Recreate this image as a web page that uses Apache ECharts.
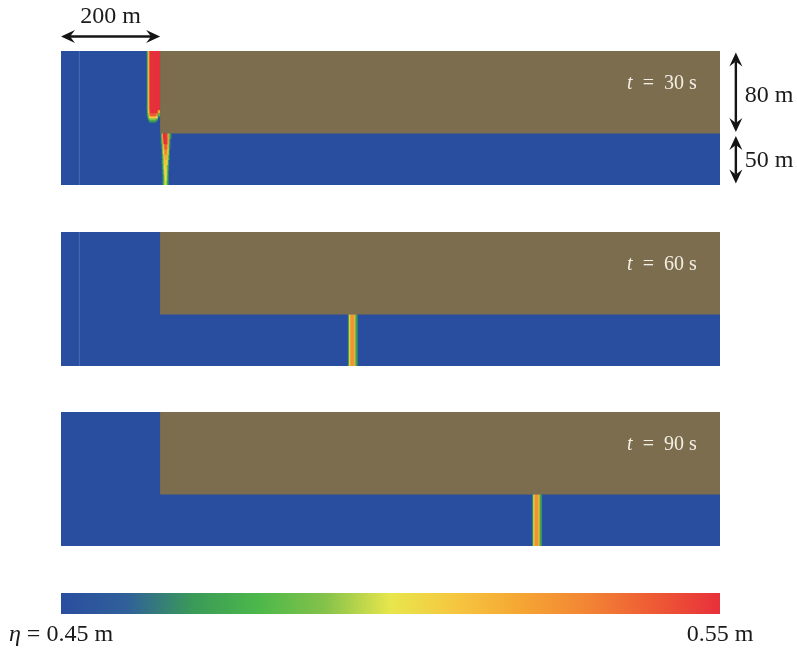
<!DOCTYPE html>
<html>
<head>
<meta charset="utf-8">
<title>Surge propagation snapshots</title>
<script src="https://cdn.jsdelivr.net/npm/echarts@6/dist/echarts.min.js"></script>
<style>
  html, body { margin: 0; padding: 0; background: #ffffff; }
  #chart { width: 797px; height: 649px; }
</style>
</head>
<body>
<div id="chart"></div>
<script>
// ---- Domain geometry (m) ----
const domainLength = 1330;
const domainHeight = 130;
const reservoirWidth = 200;
const channelWidth = 50;
const inletLineX = 36;

// ---- Snapshots ----
const snapshotTimes = ['30', '60', '90'];     // s
const inletLineShown = [true, true, false];

// ---- Surface elevation eta (m) ----
const etaMin = 0.45;
const etaMax = 0.55;
const stillEta = 0.45;
const etaColors = ['#2a4e9f', '#30609a', '#3a9a58', '#4cb84a', '#84c24a', '#e8e64c',
                   '#f6c640', '#f5a533', '#f28434', '#ee5a35', '#e8303a'];
const landColor = '#7b6d4e';

// 30 s: surge column running down the reservoir along the land face
const reservoirFrontX = [174, 176, 178, 180, 186, 192, 196, 200];
const reservoirFrontY = [61, 63, 65, 67, 70, 73, 130];
const reservoirFrontEta = [
  [0.45, 0.46, 0.47, 0.47, 0.47, 0.46, 0.45],
  [0.45, 0.47, 0.48, 0.49, 0.49, 0.48, 0.45],
  [0.46, 0.48, 0.50, 0.51, 0.51, 0.50, 0.46],
  [0.47, 0.49, 0.52, 0.54, 0.54, 0.53, 0.48],
  [0.47, 0.50, 0.53, 0.55, 0.55, 0.55, 0.52],
  [0.475, 0.505, 0.535, 0.55, 0.55, 0.55, 0.55]
];

// 30 s: front entering the channel (rows from channel bottom upward)
const channelFront30X = [202, 204, 206, 208, 210, 212, 214, 216, 218, 220, 222];
const channelFront30Y = [0, 5, 10, 15, 20, 25, 30, 35, 40, 45, 50];
const channelFront30Eta = [
  [0.45, 0.46, 0.47, 0.49, 0.50, 0.495, 0.48, 0.47, 0.45, 0.45],
  [0.45, 0.46, 0.47, 0.49, 0.50, 0.50, 0.485, 0.47, 0.45, 0.45],
  [0.45, 0.46, 0.475, 0.495, 0.505, 0.50, 0.49, 0.47, 0.45, 0.45],
  [0.45, 0.465, 0.48, 0.50, 0.51, 0.505, 0.49, 0.475, 0.46, 0.45],
  [0.45, 0.47, 0.485, 0.505, 0.515, 0.51, 0.50, 0.48, 0.46, 0.45],
  [0.45, 0.47, 0.49, 0.51, 0.52, 0.52, 0.51, 0.49, 0.47, 0.45],
  [0.45, 0.47, 0.50, 0.52, 0.53, 0.53, 0.52, 0.50, 0.47, 0.45],
  [0.46, 0.48, 0.51, 0.53, 0.54, 0.54, 0.53, 0.51, 0.48, 0.46],
  [0.47, 0.49, 0.53, 0.55, 0.55, 0.55, 0.54, 0.52, 0.49, 0.46],
  [0.47, 0.51, 0.55, 0.55, 0.55, 0.55, 0.54, 0.52, 0.49, 0.47]
];

// 60 s and 90 s: fronts in the channel, uniform across its width
const channelFront60X = [580, 582, 584, 586, 588, 590, 592, 594, 596, 598];
const channelFront60Eta = [0.47, 0.50, 0.52, 0.525, 0.525, 0.525, 0.515, 0.49, 0.47];
const channelFront90X = [952, 954, 956, 958, 960, 962, 964, 966, 968, 970];
const channelFront90Eta = [0.47, 0.50, 0.52, 0.525, 0.525, 0.525, 0.515, 0.49, 0.47];

// ---- Dimension annotations (m, in the first snapshot's frame) ----
const dimensionArrows = [
  [0, 144, 200, 144],
  [1362, 128.5, 1362, 51.5],
  [1362, 47.5, 1362, 1.5]
];
const dimensionLabels = [
  [100, 163, '200 m', 'center'],
  [1380, 87, '80 m', 'left'],
  [1380, 23.5, '50 m', 'left']
];
const timeLabelPos = [1283, 98.5];

// ---- Cell builders ----
function tableCells(xEdges, yEdges, rows) {
  const cells = [];
  rows.forEach(function (row, j) {
    row.forEach(function (eta, i) {
      cells.push([xEdges[i], xEdges[i + 1], yEdges[j], yEdges[j + 1], eta]);
    });
  });
  return cells;
}
function profileCells(xEdges, etas, y0, y1) {
  return etas.map(function (eta, i) { return [xEdges[i], xEdges[i + 1], y0, y1, eta]; });
}

const stillWater = [[0, domainLength, 0, domainHeight, stillEta]];
const fieldCells = [
  stillWater
    .concat(tableCells(reservoirFrontX, reservoirFrontY, reservoirFrontEta))
    .concat(tableCells(channelFront30X, channelFront30Y, channelFront30Eta)),
  stillWater.concat(profileCells(channelFront60X, channelFront60Eta, 0, channelWidth)),
  stillWater.concat(profileCells(channelFront90X, channelFront90Eta, 0, channelWidth))
];
const landCells = [[reservoirWidth, domainLength, channelWidth, domainHeight]];

// ---- Rendering helpers ----
// field cell: filled and outlined in its own colour so neighbouring cells join without seams
function fieldItem(params, api) {
  const p0 = api.coord([api.value(0), api.value(3)]);
  const p1 = api.coord([api.value(1), api.value(2)]);
  const c = api.visual('color');
  return {
    type: 'rect',
    shape: { x: p0[0], y: p0[1], width: p1[0] - p0[0], height: p1[1] - p0[1] },
    style: { fill: c, stroke: c, lineWidth: params.dataIndex === 0 ? 0 : 0.8 }
  };
}

function landItem(params, api) {
  const p0 = api.coord([api.value(0), api.value(3)]);
  const p1 = api.coord([api.value(1), api.value(2)]);
  return {
    type: 'rect',
    shape: { x: p0[0], y: p0[1], width: p1[0] - p0[0], height: p1[1] - p0[1] },
    style: { fill: landColor }
  };
}

function arrowItem(params, api) {
  const a = api.coord([api.value(0), api.value(1)]);
  const b = api.coord([api.value(2), api.value(3)]);
  const dx = b[0] - a[0], dy = b[1] - a[1];
  const len = Math.sqrt(dx * dx + dy * dy);
  const ux = dx / len, uy = dy / len;      // along
  const nx = -uy, ny = ux;                 // normal
  const headLen = 14, headHalf = 6.5, notch = 9;
  function head(tip, dir) {
    const bx = tip[0] - dir * ux * headLen, by = tip[1] - dir * uy * headLen;
    const cx = tip[0] - dir * ux * notch, cy = tip[1] - dir * uy * notch;
    return {
      type: 'polygon',
      shape: { points: [tip, [bx + nx * headHalf, by + ny * headHalf], [cx, cy], [bx - nx * headHalf, by - ny * headHalf]] },
      style: { fill: '#141414' }
    };
  }
  return {
    type: 'group',
    children: [
      {
        type: 'line',
        shape: { x1: a[0] + ux * notch, y1: a[1] + uy * notch, x2: b[0] - ux * notch, y2: b[1] - uy * notch },
        style: { stroke: '#141414', lineWidth: 2.4 }
      },
      head(a, -1),
      head(b, 1)
    ]
  };
}

function dimLabelItem(params, api) {
  const p = api.coord([api.value(0), api.value(1)]);
  const d = dimensionLabels[params.dataIndex];
  return {
    type: 'text',
    x: p[0], y: p[1],
    style: {
      text: d[2], fill: '#1a1a1a', font: '24px "Liberation Serif", "Times New Roman", serif',
      align: d[3], verticalAlign: 'middle'
    }
  };
}

function inletItem(params, api) {
  const a = api.coord([api.value(0), 0]);
  const b = api.coord([api.value(0), domainHeight]);
  return {
    type: 'line',
    shape: { x1: a[0] + 0.5, y1: a[1], x2: b[0] + 0.5, y2: b[1] },
    style: { stroke: '#4a6db4', lineWidth: 1 }
  };
}

// colour bar: one rectangle spanning etaMin..etaMax, filled with the eta colour scale
function colorBarItem(params, api) {
  const p0 = api.coord([api.value(0), 1]);
  const p1 = api.coord([api.value(1), 0]);
  const stops = etaColors.map(function (c, i) { return { offset: i / (etaColors.length - 1), color: c }; });
  return {
    type: 'rect',
    shape: { x: p0[0], y: p0[1], width: p1[0] - p0[0], height: p1[1] - p0[1] },
    style: { fill: new echarts.graphic.LinearGradient(0, 0, 1, 0, stops) }
  };
}

// ---- Layout of the three snapshot frames ----
const panelTops = [51, 232, 412];
const grids = [], xAxes = [], yAxes = [], series = [], fieldSeriesIndex = [];
const serifFont = '"Liberation Serif", "Times New Roman", serif';

panelTops.forEach(function (top, k) {
  grids.push({ left: 61, top: top, width: 659, height: 134 });
  xAxes.push({ gridIndex: k, type: 'value', min: 0, max: domainLength, show: false });
  yAxes.push({ gridIndex: k, type: 'value', min: 0, max: domainHeight, show: false });

  fieldSeriesIndex.push(series.length);
  series.push({
    type: 'custom', name: 'eta ' + snapshotTimes[k] + ' s', xAxisIndex: k, yAxisIndex: k,
    renderItem: fieldItem, data: fieldCells[k], clip: true, silent: true
  });
  series.push({
    type: 'custom', name: 'land', xAxisIndex: k, yAxisIndex: k,
    renderItem: landItem, data: landCells, clip: true, silent: true
  });
  if (inletLineShown[k]) {
    series.push({
      type: 'custom', name: 'inlet', xAxisIndex: k, yAxisIndex: k,
      renderItem: inletItem, data: [[inletLineX]], silent: true
    });
  }
  const timeText = snapshotTimes[k];
  series.push({
    type: 'custom', name: 'time', xAxisIndex: k, yAxisIndex: k, silent: true, clip: false,
    data: [timeLabelPos],
    renderItem: function (params, api) {
      const p = api.coord([api.value(0), api.value(1)]);
      return {
        type: 'text', x: p[0], y: p[1],
        style: {
          text: '{it|t}{eq|=}{n|' + timeText + ' s}',
          align: 'right', verticalAlign: 'middle',
          rich: {
            it: { fontFamily: serifFont, fontSize: 20, fontStyle: 'italic', fill: '#f3efe4' },
            eq: { fontFamily: serifFont, fontSize: 20, fill: '#f3efe4', padding: [0, 10] },
            n: { fontFamily: serifFont, fontSize: 20, fill: '#f3efe4' }
          }
        }
      };
    }
  });
});

// dimension arrows and their labels on the first frame
series.push({
  type: 'custom', name: 'dimensions', xAxisIndex: 0, yAxisIndex: 0, silent: true, clip: false,
  renderItem: arrowItem, data: dimensionArrows
});
series.push({
  type: 'custom', name: 'dimension labels', xAxisIndex: 0, yAxisIndex: 0, silent: true, clip: false,
  renderItem: dimLabelItem, data: dimensionLabels.map(function (d) { return [d[0], d[1]]; })
});

// colour bar frame with its end labels
grids.push({ left: 61, top: 593, width: 659, height: 21 });
xAxes.push({
  gridIndex: 3, type: 'value', min: etaMin, max: etaMax,
  axisLine: { show: false }, axisTick: { show: false }, splitLine: { show: false },
  axisLabel: {
    customValues: [etaMin, etaMax], margin: 9, color: '#1a1a1a',
    fontFamily: serifFont, fontSize: 24,
    formatter: function (v) {
      return Math.abs(v - etaMin) < 1e-9 ? '{it|η} = ' + etaMin.toFixed(2) + ' m' : etaMax.toFixed(2) + ' m';
    },
    rich: { it: { fontFamily: serifFont, fontSize: 24, fontStyle: 'italic', color: '#1a1a1a' } }
  }
});
yAxes.push({ gridIndex: 3, type: 'value', min: 0, max: 1, show: false });
series.push({
  type: 'custom', name: 'colour bar', xAxisIndex: 3, yAxisIndex: 3, silent: true,
  renderItem: colorBarItem, data: [[etaMin, etaMax]]
});

const chart = echarts.init(document.getElementById('chart'));
chart.setOption({
  backgroundColor: '#ffffff',
  animation: false,
  grid: grids,
  xAxis: xAxes,
  yAxis: yAxes,
  visualMap: {
    type: 'continuous', min: etaMin, max: etaMax, dimension: 4,
    seriesIndex: fieldSeriesIndex, show: false,
    inRange: { color: etaColors }
  },
  series: series
});
</script>
</body>
</html>
